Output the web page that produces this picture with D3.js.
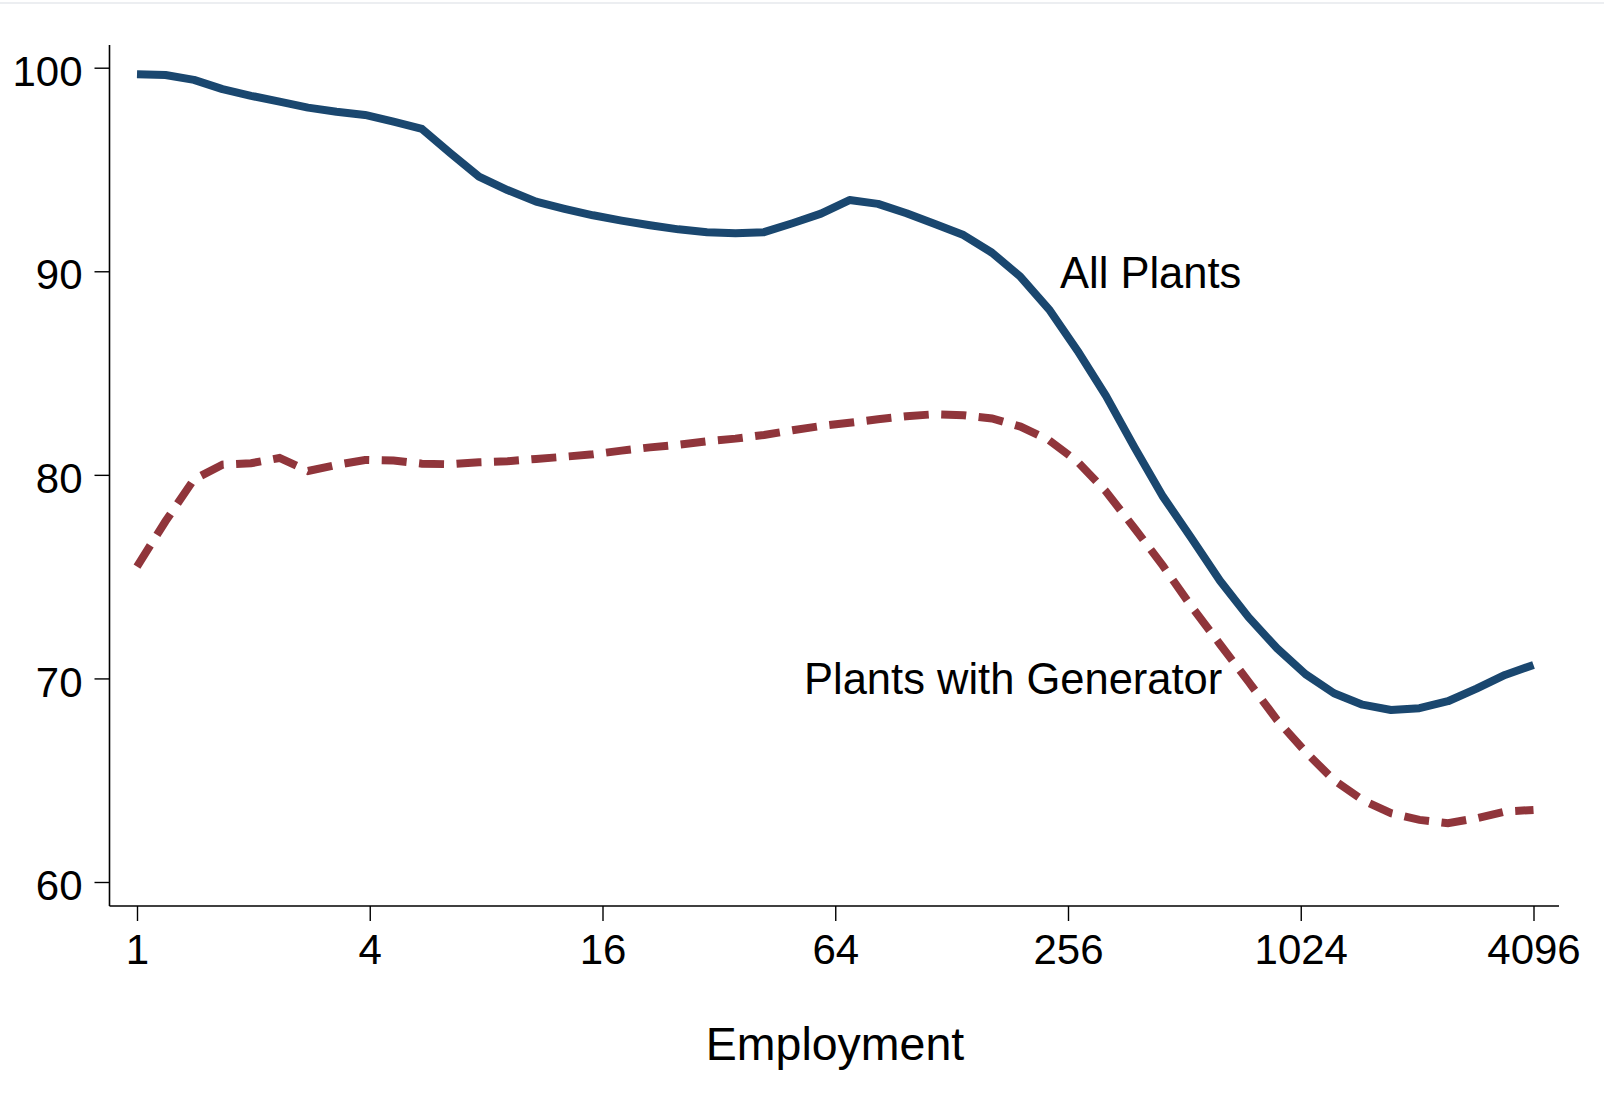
<!DOCTYPE html>
<html>
<head>
<meta charset="utf-8">
<script src="https://cdn.jsdelivr.net/npm/d3@7"></script>
<style>
  html, body { margin: 0; padding: 0; background: #fff; }
  svg { display: block; }
  text { font-family: "Liberation Sans", Arial, Helvetica, sans-serif; fill: #000; }
</style>
</head>
<body>
<svg id="chart" width="1604" height="1109"></svg>
<script>
// ---- data ----
const employment = [1, 1.185, 1.404, 1.664, 1.972, 2.337, 2.769, 3.281, 3.888, 4.608,
  5.460, 6.470, 7.667, 9.085, 10.77, 12.76, 15.12, 17.92, 21.23, 25.16,
  29.82, 35.33, 41.87, 49.61, 58.79, 69.67, 82.56, 97.83, 115.9, 137.4,
  162.8, 192.9, 228.6, 270.9, 321.0, 380.4, 450.8, 534.2, 633.0, 750.1,
  888.9, 1053, 1248, 1479, 1753, 2077, 2461, 2917, 3456, 4096];

const allPlants = [99.68, 99.64, 99.40, 98.95, 98.62, 98.33, 98.04, 97.84, 97.68, 97.35,
  96.99, 95.80, 94.65, 93.99, 93.42, 93.07, 92.75, 92.49, 92.26, 92.06,
  91.92, 91.87, 91.92, 92.36, 92.83, 93.50, 93.31, 92.85, 92.32, 91.78,
  90.91, 89.73, 88.13, 86.10, 83.88, 81.35, 78.93, 76.89, 74.80, 73.01,
  71.48, 70.21, 69.27, 68.71, 68.45, 68.54, 68.88, 69.50, 70.17, 70.66];

const withGenerator = [75.49, 77.72, 79.78, 80.50, 80.57, 80.83, 80.19, 80.49, 80.73, 80.70,
  80.55, 80.52, 80.62, 80.67, 80.78, 80.89, 81.01, 81.19, 81.35, 81.48,
  81.65, 81.78, 81.96, 82.19, 82.40, 82.56, 82.73, 82.88, 82.98, 82.93,
  82.77, 82.37, 81.70, 80.65, 79.18, 77.38, 75.53, 73.53, 71.68, 69.84,
  67.96, 66.40, 65.00, 64.03, 63.38, 63.05, 62.89, 63.13, 63.46, 63.54];

const xTicks = [1, 4, 16, 64, 256, 1024, 4096];
const yTicks = [60, 70, 80, 90, 100];
const seriesLabels = ["All Plants", "Plants with Generator"];
const xTitle = "Employment";

// ---- layout ----
const svg = d3.select("#chart");
const axisLeftX = 109.5, axisBottomY = 906, axisTopY = 45, axisRightX = 1559;

const x = d3.scaleLog().base(2).domain([1, 4096]).range([137, 1533.5]);
const y = d3.scaleLinear().domain([60, 100]).range([882, 67.7]);

// faint frame line at top
svg.append("line").attr("x1", 0).attr("x2", 1604).attr("y1", 3).attr("y2", 3)
  .attr("stroke", "#e6e9ec").attr("stroke-width", 1.5);

// y axis
const gy = svg.append("g").attr("transform", `translate(${axisLeftX},0)`)
  .call(d3.axisLeft(y).tickValues(yTicks).tickSize(15).tickSizeOuter(0).tickPadding(12).tickFormat(d3.format("d")));
gy.select(".domain").remove();
gy.selectAll(".tick line").attr("stroke", "#000").attr("stroke-width", 1.4);
gy.selectAll(".tick text").attr("font-size", 42).attr("dy", "0.42em");
svg.append("line").attr("x1", axisLeftX).attr("x2", axisLeftX)
  .attr("y1", axisTopY).attr("y2", axisBottomY).attr("stroke", "#000").attr("stroke-width", 1.6);

// x axis
const gx = svg.append("g").attr("transform", `translate(0,${axisBottomY})`)
  .call(d3.axisBottom(x).tickValues(xTicks).tickSize(15).tickSizeOuter(0).tickPadding(14).tickFormat(d3.format("d")));
gx.select(".domain").remove();
gx.selectAll(".tick line").attr("stroke", "#000").attr("stroke-width", 1.4);
gx.selectAll(".tick text").attr("font-size", 42).attr("dy", "0.70em");
svg.append("line").attr("x1", axisLeftX).attr("x2", axisRightX)
  .attr("y1", axisBottomY).attr("y2", axisBottomY).attr("stroke", "#000").attr("stroke-width", 1.6);

// x title
svg.append("text").attr("x", 835).attr("y", 1060).attr("text-anchor", "middle")
  .attr("font-size", 46.5).text(xTitle);

// lines
const line = d3.line().x((d, i) => x(employment[i])).y(d => y(d));

svg.append("path").datum(withGenerator)
  .attr("d", line).attr("fill", "none")
  .attr("stroke", "#90353b").attr("stroke-width", 8)
  .attr("stroke-dasharray", "25,12.5").attr("stroke-linejoin", "miter").attr("stroke-linecap", "butt");

svg.append("path").datum(allPlants)
  .attr("d", line).attr("fill", "none")
  .attr("stroke", "#1a476f").attr("stroke-width", 8)
  .attr("stroke-linejoin", "round").attr("stroke-linecap", "butt");

// series labels
svg.append("text").attr("x", 1060).attr("y", 288).attr("font-size", 43.5).text(seriesLabels[0]);
svg.append("text").attr("x", 804).attr("y", 694).attr("font-size", 43.5).text(seriesLabels[1]);
</script>
</body>
</html>
